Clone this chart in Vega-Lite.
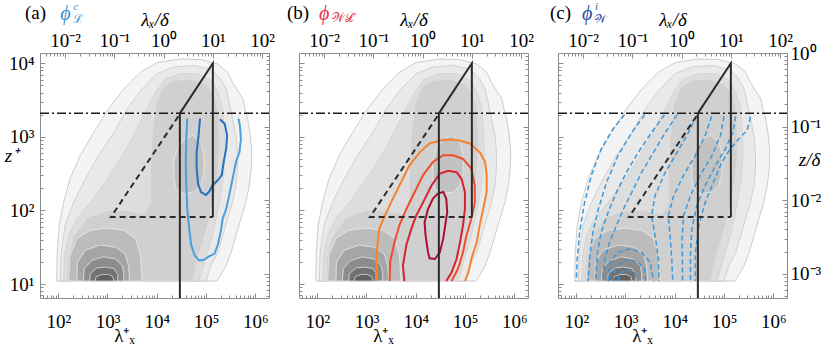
{
"$schema": "https://vega.github.io/schema/vega-lite/v6.json",
"autosize": {"type": "pad"},
"padding": {"left": 4, "top": 0, "right": 0, "bottom": 0},
"background": "white",
"config": {
  "view": {"stroke": null},
  "axis": {"grid": false, "domainColor": "#8c8c8c", "tickColor": "#8c8c8c", "domainWidth": 1, "tickWidth": 1,
    "labelFont": "Liberation Serif", "labelFontSize": 19, "labelColor": "#000",
    "titleFont": "Liberation Serif", "titleFontSize": 19, "titleFontWeight": "normal", "titleColor": "#000",
    "labelFlush": false, "labelOverlap": false, "labelBound": false}
},
"resolve": {"scale": {"color": "independent", "fill": "independent", "stroke": "independent"}},
"datasets": {
  "contours": [
    {"poly":"c01","i":0,"lx":1.97,"lz":1.04},{"poly":"c01","i":1,"lx":1.98,"lz":1.43},{"poly":"c01","i":2,"lx":2.02,"lz":1.80},{"poly":"c01","i":3,"lx":2.11,"lz":2.11},{"poly":"c01","i":4,"lx":2.24,"lz":2.43},{"poly":"c01","i":5,"lx":2.45,"lz":2.75},{"poly":"c01","i":6,"lx":2.72,"lz":3.06},{"poly":"c01","i":7,"lx":3.02,"lz":3.38},{"poly":"c01","i":8,"lx":3.33,"lz":3.65},{"poly":"c01","i":9,"lx":3.67,"lz":3.88},{"poly":"c01","i":10,"lx":4.01,"lz":4.01},{"poly":"c01","i":11,"lx":4.49,"lz":4.06},{"poly":"c01","i":12,"lx":4.90,"lz":4.05},{"poly":"c01","i":13,"lx":5.24,"lz":3.99},{"poly":"c01","i":14,"lx":5.44,"lz":3.88},{"poly":"c01","i":15,"lx":5.54,"lz":3.74},{"poly":"c01","i":16,"lx":5.64,"lz":3.63},{"poly":"c01","i":17,"lx":5.75,"lz":3.52},{"poly":"c01","i":18,"lx":5.79,"lz":3.38},{"poly":"c01","i":19,"lx":5.85,"lz":3.24},{"poly":"c01","i":20,"lx":5.90,"lz":3.02},{"poly":"c01","i":21,"lx":5.93,"lz":2.79},{"poly":"c01","i":22,"lx":5.92,"lz":2.57},{"poly":"c01","i":23,"lx":5.88,"lz":2.34},{"poly":"c01","i":24,"lx":5.81,"lz":2.11},{"poly":"c01","i":25,"lx":5.71,"lz":1.89},{"poly":"c01","i":26,"lx":5.61,"lz":1.66},{"poly":"c01","i":27,"lx":5.51,"lz":1.43},{"poly":"c01","i":28,"lx":5.41,"lz":1.25},{"poly":"c01","i":29,"lx":5.30,"lz":1.12},{"poly":"c01","i":30,"lx":5.22,"lz":1.04},{"poly":"c01","i":31,"lx":1.97,"lz":1.04},
    {"poly":"c02","i":0,"lx":2.04,"lz":1.04},{"poly":"c02","i":1,"lx":2.06,"lz":1.43},{"poly":"c02","i":2,"lx":2.14,"lz":1.80},{"poly":"c02","i":3,"lx":2.31,"lz":2.11},{"poly":"c02","i":4,"lx":2.55,"lz":2.43},{"poly":"c02","i":5,"lx":2.82,"lz":2.75},{"poly":"c02","i":6,"lx":3.13,"lz":3.06},{"poly":"c02","i":7,"lx":3.40,"lz":3.38},{"poly":"c02","i":8,"lx":3.70,"lz":3.65},{"poly":"c02","i":9,"lx":4.01,"lz":3.86},{"poly":"c02","i":10,"lx":4.35,"lz":3.95},{"poly":"c02","i":11,"lx":4.76,"lz":3.97},{"poly":"c02","i":12,"lx":5.10,"lz":3.92},{"poly":"c02","i":13,"lx":5.30,"lz":3.79},{"poly":"c02","i":14,"lx":5.41,"lz":3.65},{"poly":"c02","i":15,"lx":5.47,"lz":3.47},{"poly":"c02","i":16,"lx":5.54,"lz":3.24},{"poly":"c02","i":17,"lx":5.61,"lz":3.02},{"poly":"c02","i":18,"lx":5.64,"lz":2.79},{"poly":"c02","i":19,"lx":5.64,"lz":2.57},{"poly":"c02","i":20,"lx":5.61,"lz":2.34},{"poly":"c02","i":21,"lx":5.54,"lz":2.11},{"poly":"c02","i":22,"lx":5.44,"lz":1.89},{"poly":"c02","i":23,"lx":5.34,"lz":1.66},{"poly":"c02","i":24,"lx":5.24,"lz":1.43},{"poly":"c02","i":25,"lx":5.10,"lz":1.25},{"poly":"c02","i":26,"lx":5.00,"lz":1.04},{"poly":"c02","i":27,"lx":2.04,"lz":1.04},
    {"poly":"c03","i":0,"lx":2.11,"lz":1.04},{"poly":"c03","i":1,"lx":2.13,"lz":1.39},{"poly":"c03","i":2,"lx":2.21,"lz":1.66},{"poly":"c03","i":3,"lx":2.38,"lz":1.89},{"poly":"c03","i":4,"lx":2.65,"lz":2.11},{"poly":"c03","i":5,"lx":2.96,"lz":2.39},{"poly":"c03","i":6,"lx":3.26,"lz":2.70},{"poly":"c03","i":7,"lx":3.53,"lz":3.02},{"poly":"c03","i":8,"lx":3.77,"lz":3.34},{"poly":"c03","i":9,"lx":3.98,"lz":3.61},{"poly":"c03","i":10,"lx":4.18,"lz":3.79},{"poly":"c03","i":11,"lx":4.49,"lz":3.86},{"poly":"c03","i":12,"lx":4.83,"lz":3.86},{"poly":"c03","i":13,"lx":5.10,"lz":3.77},{"poly":"c03","i":14,"lx":5.24,"lz":3.61},{"poly":"c03","i":15,"lx":5.34,"lz":3.38},{"poly":"c03","i":16,"lx":5.37,"lz":3.11},{"poly":"c03","i":17,"lx":5.39,"lz":2.79},{"poly":"c03","i":18,"lx":5.36,"lz":2.48},{"poly":"c03","i":19,"lx":5.30,"lz":2.20},{"poly":"c03","i":20,"lx":5.22,"lz":1.93},{"poly":"c03","i":21,"lx":5.13,"lz":1.66},{"poly":"c03","i":22,"lx":5.03,"lz":1.43},{"poly":"c03","i":23,"lx":4.93,"lz":1.21},{"poly":"c03","i":24,"lx":4.86,"lz":1.04},{"poly":"c03","i":25,"lx":2.11,"lz":1.04},
    {"poly":"c04","i":0,"lx":2.17,"lz":1.04},{"poly":"c04","i":1,"lx":2.19,"lz":1.34},{"poly":"c04","i":2,"lx":2.31,"lz":1.65},{"poly":"c04","i":3,"lx":2.58,"lz":1.90},{"poly":"c04","i":4,"lx":2.99,"lz":2.00},{"poly":"c04","i":5,"lx":3.40,"lz":2.00},{"poly":"c04","i":6,"lx":3.74,"lz":1.95},{"poly":"c04","i":7,"lx":3.87,"lz":2.10},{"poly":"c04","i":8,"lx":3.87,"lz":2.57},{"poly":"c04","i":9,"lx":3.91,"lz":3.02},{"poly":"c04","i":10,"lx":3.98,"lz":3.43},{"poly":"c04","i":11,"lx":4.11,"lz":3.67},{"poly":"c04","i":12,"lx":4.35,"lz":3.77},{"poly":"c04","i":13,"lx":4.69,"lz":3.78},{"poly":"c04","i":14,"lx":5.00,"lz":3.72},{"poly":"c04","i":15,"lx":5.17,"lz":3.58},{"poly":"c04","i":16,"lx":5.24,"lz":3.38},{"poly":"c04","i":17,"lx":5.27,"lz":3.11},{"poly":"c04","i":18,"lx":5.27,"lz":2.79},{"poly":"c04","i":19,"lx":5.24,"lz":2.48},{"poly":"c04","i":20,"lx":5.17,"lz":2.20},{"poly":"c04","i":21,"lx":5.07,"lz":1.89},{"poly":"c04","i":22,"lx":4.96,"lz":1.62},{"poly":"c04","i":23,"lx":4.83,"lz":1.34},{"poly":"c04","i":24,"lx":4.73,"lz":1.04},{"poly":"c04","i":25,"lx":2.17,"lz":1.04},
    {"poly":"c05","i":0,"lx":4.35,"lz":2.43},{"poly":"c05","i":1,"lx":4.34,"lz":2.66},{"poly":"c05","i":2,"lx":4.42,"lz":2.84},{"poly":"c05","i":3,"lx":4.56,"lz":2.97},{"poly":"c05","i":4,"lx":4.73,"lz":3.02},{"poly":"c05","i":5,"lx":4.90,"lz":2.93},{"poly":"c05","i":6,"lx":4.96,"lz":2.75},{"poly":"c05","i":7,"lx":4.96,"lz":2.52},{"poly":"c05","i":8,"lx":4.90,"lz":2.34},{"poly":"c05","i":9,"lx":4.76,"lz":2.25},{"poly":"c05","i":10,"lx":4.56,"lz":2.23},{"poly":"c05","i":11,"lx":4.39,"lz":2.29},{"poly":"c05","i":12,"lx":4.35,"lz":2.43},
    {"poly":"c06","i":0,"lx":2.21,"lz":1.04},{"poly":"c06","i":1,"lx":2.24,"lz":1.39},{"poly":"c06","i":2,"lx":2.38,"lz":1.62},{"poly":"c06","i":3,"lx":2.65,"lz":1.73},{"poly":"c06","i":4,"lx":2.99,"lz":1.76},{"poly":"c06","i":5,"lx":3.33,"lz":1.73},{"poly":"c06","i":6,"lx":3.57,"lz":1.62},{"poly":"c06","i":7,"lx":3.67,"lz":1.39},{"poly":"c06","i":8,"lx":3.70,"lz":1.04},{"poly":"c06","i":9,"lx":2.21,"lz":1.04},
    {"poly":"c07","i":0,"lx":2.38,"lz":1.04},{"poly":"c07","i":1,"lx":2.39,"lz":1.30},{"poly":"c07","i":2,"lx":2.55,"lz":1.46},{"poly":"c07","i":3,"lx":2.85,"lz":1.53},{"poly":"c07","i":4,"lx":3.16,"lz":1.50},{"poly":"c07","i":5,"lx":3.36,"lz":1.41},{"poly":"c07","i":6,"lx":3.43,"lz":1.25},{"poly":"c07","i":7,"lx":3.45,"lz":1.04},{"poly":"c07","i":8,"lx":2.38,"lz":1.04},
    {"poly":"c08","i":0,"lx":2.51,"lz":1.04},{"poly":"c08","i":1,"lx":2.53,"lz":1.21},{"poly":"c08","i":2,"lx":2.68,"lz":1.32},{"poly":"c08","i":3,"lx":2.92,"lz":1.37},{"poly":"c08","i":4,"lx":3.16,"lz":1.34},{"poly":"c08","i":5,"lx":3.30,"lz":1.25},{"poly":"c08","i":6,"lx":3.33,"lz":1.14},{"poly":"c08","i":7,"lx":3.33,"lz":1.04},{"poly":"c08","i":8,"lx":2.51,"lz":1.04},
    {"poly":"c09","i":0,"lx":2.64,"lz":1.04},{"poly":"c09","i":1,"lx":2.65,"lz":1.14},{"poly":"c09","i":2,"lx":2.79,"lz":1.22},{"poly":"c09","i":3,"lx":2.96,"lz":1.23},{"poly":"c09","i":4,"lx":3.13,"lz":1.21},{"poly":"c09","i":5,"lx":3.21,"lz":1.13},{"poly":"c09","i":6,"lx":3.21,"lz":1.04},{"poly":"c09","i":7,"lx":2.64,"lz":1.04},
    {"poly":"c10","i":0,"lx":2.75,"lz":1.04},{"poly":"c10","i":1,"lx":2.77,"lz":1.10},{"poly":"c10","i":2,"lx":2.89,"lz":1.13},{"poly":"c10","i":3,"lx":3.02,"lz":1.13},{"poly":"c10","i":4,"lx":3.11,"lz":1.10},{"poly":"c10","i":5,"lx":3.13,"lz":1.04},{"poly":"c10","i":6,"lx":2.75,"lz":1.04}
  ],
  "solid": [{"i":0,"lx":4.47,"lz":0.81},{"i":1,"lx":4.47,"lz":3.32},{"i":2,"lx":5.14,"lz":4.0},{"i":3,"lx":5.14,"lz":1.91}],
  "dashed": [{"i":0,"lx":4.44,"lz":3.28},{"i":1,"lx":3.07,"lz":1.91},{"i":2,"lx":5.14,"lz":1.91}],
  "dashdot": [{"i":0,"lx":1.63,"lz":3.32},{"i":1,"lx":6.28,"lz":3.32}],
  "lines_a": [
    {"s":"outer","i":0,"lx":4.62,"lz":3.25},{"s":"outer","i":1,"lx":4.60,"lz":2.97},{"s":"outer","i":2,"lx":4.59,"lz":2.66},{"s":"outer","i":3,"lx":4.60,"lz":2.34},{"s":"outer","i":4,"lx":4.62,"lz":2.02},{"s":"outer","i":5,"lx":4.66,"lz":1.75},{"s":"outer","i":6,"lx":4.70,"lz":1.53},{"s":"outer","i":7,"lx":4.77,"lz":1.39},{"s":"outer","i":8,"lx":4.86,"lz":1.32},{"s":"outer","i":9,"lx":4.96,"lz":1.33},{"s":"outer","i":10,"lx":5.07,"lz":1.38},{"s":"outer","i":11,"lx":5.17,"lz":1.41},{"s":"outer","i":12,"lx":5.24,"lz":1.53},{"s":"outer","i":13,"lx":5.30,"lz":1.71},{"s":"outer","i":14,"lx":5.34,"lz":1.89},{"s":"outer","i":15,"lx":5.41,"lz":2.02},{"s":"outer","i":16,"lx":5.47,"lz":2.20},{"s":"outer","i":17,"lx":5.54,"lz":2.43},{"s":"outer","i":18,"lx":5.61,"lz":2.66},{"s":"outer","i":19,"lx":5.68,"lz":2.79},{"s":"outer","i":20,"lx":5.71,"lz":2.97},{"s":"outer","i":21,"lx":5.69,"lz":3.15},{"s":"outer","i":22,"lx":5.66,"lz":3.25},
    {"s":"inner","i":0,"lx":4.88,"lz":3.25},{"s":"inner","i":1,"lx":4.85,"lz":3.02},{"s":"inner","i":2,"lx":4.81,"lz":2.79},{"s":"inner","i":3,"lx":4.81,"lz":2.57},{"s":"inner","i":4,"lx":4.84,"lz":2.36},{"s":"inner","i":5,"lx":4.90,"lz":2.25},{"s":"inner","i":6,"lx":5.00,"lz":2.21},{"s":"inner","i":7,"lx":5.07,"lz":2.26},{"s":"inner","i":8,"lx":5.13,"lz":2.34},{"s":"inner","i":9,"lx":5.24,"lz":2.41},{"s":"inner","i":10,"lx":5.32,"lz":2.48},{"s":"inner","i":11,"lx":5.36,"lz":2.66},{"s":"inner","i":12,"lx":5.41,"lz":2.84},{"s":"inner","i":13,"lx":5.43,"lz":3.02},{"s":"inner","i":14,"lx":5.38,"lz":3.18},{"s":"inner","i":15,"lx":5.28,"lz":3.24}
  ],
  "lines_b": [
    {"s":"o1","i":0,"lx":3.19,"lz":1.04},{"s":"o1","i":1,"lx":3.21,"lz":1.43},{"s":"o1","i":2,"lx":3.26,"lz":1.75},{"s":"o1","i":3,"lx":3.36,"lz":1.91},{"s":"o1","i":4,"lx":3.50,"lz":2.11},{"s":"o1","i":5,"lx":3.67,"lz":2.34},{"s":"o1","i":6,"lx":3.87,"lz":2.61},{"s":"o1","i":7,"lx":4.08,"lz":2.79},{"s":"o1","i":8,"lx":4.28,"lz":2.91},{"s":"o1","i":9,"lx":4.56,"lz":2.96},{"s":"o1","i":10,"lx":4.83,"lz":2.96},{"s":"o1","i":11,"lx":5.10,"lz":2.91},{"s":"o1","i":12,"lx":5.30,"lz":2.79},{"s":"o1","i":13,"lx":5.41,"lz":2.66},{"s":"o1","i":14,"lx":5.44,"lz":2.48},{"s":"o1","i":15,"lx":5.44,"lz":2.25},{"s":"o1","i":16,"lx":5.37,"lz":2.02},{"s":"o1","i":17,"lx":5.30,"lz":1.80},{"s":"o1","i":18,"lx":5.24,"lz":1.57},{"s":"o1","i":19,"lx":5.13,"lz":1.34},{"s":"o1","i":20,"lx":5.07,"lz":1.16},{"s":"o1","i":21,"lx":5.00,"lz":1.04},
    {"s":"o2","i":0,"lx":3.47,"lz":1.04},{"s":"o2","i":1,"lx":3.48,"lz":1.30},{"s":"o2","i":2,"lx":3.57,"lz":1.57},{"s":"o2","i":3,"lx":3.67,"lz":1.80},{"s":"o2","i":4,"lx":3.81,"lz":2.02},{"s":"o2","i":5,"lx":3.98,"lz":2.25},{"s":"o2","i":6,"lx":4.15,"lz":2.48},{"s":"o2","i":7,"lx":4.35,"lz":2.66},{"s":"o2","i":8,"lx":4.56,"lz":2.75},{"s":"o2","i":9,"lx":4.76,"lz":2.75},{"s":"o2","i":10,"lx":4.96,"lz":2.70},{"s":"o2","i":11,"lx":5.13,"lz":2.57},{"s":"o2","i":12,"lx":5.20,"lz":2.34},{"s":"o2","i":13,"lx":5.20,"lz":2.11},{"s":"o2","i":14,"lx":5.13,"lz":1.89},{"s":"o2","i":15,"lx":5.03,"lz":1.66},{"s":"o2","i":16,"lx":4.96,"lz":1.43},{"s":"o2","i":17,"lx":4.86,"lz":1.21},{"s":"o2","i":18,"lx":4.73,"lz":1.04},
    {"s":"o3","i":0,"lx":3.77,"lz":1.04},{"s":"o3","i":1,"lx":3.74,"lz":1.25},{"s":"o3","i":2,"lx":3.81,"lz":1.53},{"s":"o3","i":3,"lx":3.91,"lz":1.75},{"s":"o3","i":4,"lx":4.01,"lz":1.93},{"s":"o3","i":5,"lx":4.15,"lz":2.11},{"s":"o3","i":6,"lx":4.32,"lz":2.34},{"s":"o3","i":7,"lx":4.49,"lz":2.50},{"s":"o3","i":8,"lx":4.66,"lz":2.54},{"s":"o3","i":9,"lx":4.83,"lz":2.52},{"s":"o3","i":10,"lx":4.93,"lz":2.43},{"s":"o3","i":11,"lx":5.00,"lz":2.25},{"s":"o3","i":12,"lx":5.00,"lz":2.02},{"s":"o3","i":13,"lx":4.96,"lz":1.80},{"s":"o3","i":14,"lx":4.90,"lz":1.57},{"s":"o3","i":15,"lx":4.83,"lz":1.34},{"s":"o3","i":16,"lx":4.73,"lz":1.16},{"s":"o3","i":17,"lx":4.62,"lz":1.04},
    {"s":"o4","i":0,"lx":4.25,"lz":1.43},{"s":"o4","i":1,"lx":4.20,"lz":1.66},{"s":"o4","i":2,"lx":4.18,"lz":1.84},{"s":"o4","i":3,"lx":4.25,"lz":2.02},{"s":"o4","i":4,"lx":4.35,"lz":2.16},{"s":"o4","i":5,"lx":4.45,"lz":2.23},{"s":"o4","i":6,"lx":4.56,"lz":2.25},{"s":"o4","i":7,"lx":4.62,"lz":2.16},{"s":"o4","i":8,"lx":4.64,"lz":1.98},{"s":"o4","i":9,"lx":4.60,"lz":1.80},{"s":"o4","i":10,"lx":4.56,"lz":1.62},{"s":"o4","i":11,"lx":4.49,"lz":1.43},{"s":"o4","i":12,"lx":4.39,"lz":1.34},{"s":"o4","i":13,"lx":4.28,"lz":1.35},{"s":"o4","i":14,"lx":4.25,"lz":1.43}
  ],
  "lines_c": [
    {"s":"A1","i":0,"lx":2.98,"lz":3.30},{"s":"A1","i":1,"lx":2.75,"lz":3.11},{"s":"A1","i":2,"lx":2.51,"lz":2.84},{"s":"A1","i":3,"lx":2.31,"lz":2.48},{"s":"A1","i":4,"lx":2.17,"lz":2.11},{"s":"A1","i":5,"lx":2.07,"lz":1.71},{"s":"A1","i":6,"lx":2.02,"lz":1.34},{"s":"A1","i":7,"lx":2.00,"lz":1.04},
    {"s":"A2","i":0,"lx":3.39,"lz":3.30},{"s":"A2","i":1,"lx":3.13,"lz":3.06},{"s":"A2","i":2,"lx":2.85,"lz":2.75},{"s":"A2","i":3,"lx":2.62,"lz":2.39},{"s":"A2","i":4,"lx":2.45,"lz":2.02},{"s":"A2","i":5,"lx":2.34,"lz":1.71},{"s":"A2","i":6,"lx":2.28,"lz":1.39},{"s":"A2","i":7,"lx":2.24,"lz":1.04},
    {"s":"A3","i":0,"lx":3.79,"lz":3.30},{"s":"A3","i":1,"lx":3.53,"lz":3.06},{"s":"A3","i":2,"lx":3.26,"lz":2.79},{"s":"A3","i":3,"lx":3.02,"lz":2.52},{"s":"A3","i":4,"lx":2.82,"lz":2.25},{"s":"A3","i":5,"lx":2.65,"lz":1.98},{"s":"A3","i":6,"lx":2.51,"lz":1.71},{"s":"A3","i":7,"lx":2.43,"lz":1.43},{"s":"A3","i":8,"lx":2.39,"lz":1.04},
    {"s":"A4","i":0,"lx":4.05,"lz":3.30},{"s":"A4","i":1,"lx":3.81,"lz":3.06},{"s":"A4","i":2,"lx":3.57,"lz":2.79},{"s":"A4","i":3,"lx":3.33,"lz":2.52},{"s":"A4","i":4,"lx":3.13,"lz":2.25},{"s":"A4","i":5,"lx":2.96,"lz":2.02},{"s":"A4","i":6,"lx":2.82,"lz":1.80},{"s":"A4","i":7,"lx":2.68,"lz":1.57},{"s":"A4","i":8,"lx":2.58,"lz":1.34},{"s":"A4","i":9,"lx":2.53,"lz":1.04},
    {"s":"B1","i":0,"lx":2.65,"lz":1.04},{"s":"B1","i":1,"lx":2.68,"lz":1.30},{"s":"B1","i":2,"lx":2.85,"lz":1.43},{"s":"B1","i":3,"lx":3.09,"lz":1.48},{"s":"B1","i":4,"lx":3.33,"lz":1.43},{"s":"B1","i":5,"lx":3.50,"lz":1.30},{"s":"B1","i":6,"lx":3.57,"lz":1.04},
    {"s":"B2","i":0,"lx":2.75,"lz":1.04},{"s":"B2","i":1,"lx":2.79,"lz":1.21},{"s":"B2","i":2,"lx":2.92,"lz":1.31},{"s":"B2","i":3,"lx":3.09,"lz":1.33},{"s":"B2","i":4,"lx":3.26,"lz":1.30},{"s":"B2","i":5,"lx":3.39,"lz":1.19},{"s":"B2","i":6,"lx":3.41,"lz":1.04},
    {"s":"B3","i":0,"lx":2.85,"lz":1.04},{"s":"B3","i":1,"lx":2.89,"lz":1.14},{"s":"B3","i":2,"lx":3.02,"lz":1.20},{"s":"B3","i":3,"lx":3.18,"lz":1.16},{"s":"B3","i":4,"lx":3.26,"lz":1.04},
    {"s":"T1","i":0,"lx":4.45,"lz":3.29},{"s":"T1","i":1,"lx":4.28,"lz":3.06},{"s":"T1","i":2,"lx":4.05,"lz":2.79},{"s":"T1","i":3,"lx":3.81,"lz":2.52},{"s":"T1","i":4,"lx":3.60,"lz":2.20},{"s":"T1","i":5,"lx":3.53,"lz":1.93},{"s":"T1","i":6,"lx":3.60,"lz":1.66},{"s":"T1","i":7,"lx":3.67,"lz":1.34},{"s":"T1","i":8,"lx":3.68,"lz":1.04},
    {"s":"T2","i":0,"lx":4.75,"lz":3.28},{"s":"T2","i":1,"lx":4.62,"lz":3.02},{"s":"T2","i":2,"lx":4.42,"lz":2.75},{"s":"T2","i":3,"lx":4.18,"lz":2.48},{"s":"T2","i":4,"lx":3.98,"lz":2.20},{"s":"T2","i":5,"lx":3.87,"lz":1.93},{"s":"T2","i":6,"lx":3.91,"lz":1.62},{"s":"T2","i":7,"lx":3.94,"lz":1.34},{"s":"T2","i":8,"lx":3.96,"lz":1.04},
    {"s":"T3","i":0,"lx":5.00,"lz":3.28},{"s":"T3","i":1,"lx":4.93,"lz":3.02},{"s":"T3","i":2,"lx":4.76,"lz":2.75},{"s":"T3","i":3,"lx":4.52,"lz":2.48},{"s":"T3","i":4,"lx":4.32,"lz":2.20},{"s":"T3","i":5,"lx":4.18,"lz":1.93},{"s":"T3","i":6,"lx":4.15,"lz":1.62},{"s":"T3","i":7,"lx":4.16,"lz":1.04},
    {"s":"T4","i":0,"lx":5.24,"lz":3.28},{"s":"T4","i":1,"lx":5.18,"lz":3.06},{"s":"T4","i":2,"lx":5.03,"lz":2.84},{"s":"T4","i":3,"lx":4.83,"lz":2.61},{"s":"T4","i":4,"lx":4.62,"lz":2.34},{"s":"T4","i":5,"lx":4.45,"lz":2.07},{"s":"T4","i":6,"lx":4.35,"lz":1.75},{"s":"T4","i":7,"lx":4.32,"lz":1.43},{"s":"T4","i":8,"lx":4.32,"lz":1.04},
    {"s":"T5","i":0,"lx":5.54,"lz":3.27},{"s":"T5","i":1,"lx":5.47,"lz":3.09},{"s":"T5","i":2,"lx":5.30,"lz":2.97},{"s":"T5","i":3,"lx":5.13,"lz":2.84},{"s":"T5","i":4,"lx":4.96,"lz":2.66},{"s":"T5","i":5,"lx":4.79,"lz":2.39},{"s":"T5","i":6,"lx":4.62,"lz":2.11},{"s":"T5","i":7,"lx":4.49,"lz":1.80},{"s":"T5","i":8,"lx":4.42,"lz":1.43},{"s":"T5","i":9,"lx":4.42,"lz":1.04}
  ]
},
"spacing": 30,
"bounds": "flush",
"hconcat": [
{
  "width": 229, "height": 245,
  "resolve": {"axis": {"x": "independent", "y": "independent"}},
  "layer": [
    {"data": {"name": "contours"}, "mark": {"type": "line", "strokeWidth": 0.9},
     "encoding": {
       "x": {"field": "lx", "type": "quantitative", "scale": {"domain": [1.63, 6.28], "nice": false, "zero": false},
             "axis": {"orient": "bottom", "values": [2,3,4,5,6], "labelExpr": "'10' + ['⁰','¹','²','³','⁴','⁵','⁶'][round(datum.value)]", "tickSize": -5, "labelPadding": 34, "labelBaseline": "alphabetic", "title": "λ⁺ₓ", "titleX": 84, "titleY": 37, "titleAlign": "center", "titleBaseline": "middle"}},
       "y": {"field": "lz", "type": "quantitative", "scale": {"domain": [0.81, 4.14], "nice": false, "zero": false},
             "axis": {"orient": "left", "values": [1,2,3,4], "labelExpr": "'10' + ['⁰','¹','²','³','⁴'][round(datum.value)]", "tickSize": -5, "labelPadding": 11, "labelBaseline": "middle", "title": "z⁺", "titleAngle": 0, "titleX": -29, "titleY": 108, "titleAlign": "center", "titleBaseline": "alphabetic", "titleFontStyle": "italic"}},
       "detail": {"field": "poly"},
       "order": {"field": "i", "type": "quantitative"},
       "fill": {"field": "poly", "type": "nominal", "legend": null, "scale": {"domain": ["c01","c02","c03","c04","c05","c06","c07","c08","c09","c10"], "range": ["#f4f4f4","#e9e9e9","#dddddd","#d0d0d0","#c2c2c2","#bcbcbc","#a5a5a5","#8c8c8c","#727272","#616161"]}},
       "stroke": {"field": "poly", "type": "nominal", "legend": null, "scale": {"domain": ["c01","c02","c03","c04","c05","c06","c07","c08","c09","c10"], "range": ["#c6c6c6","#cdcdcd","#d2d2d2","#dedede","#e6e6e6","#e6e6e6","#e4e4e4","#dedede","#d6d6d6","#cccccc"]}}
     }},
    {"data": {"name": "lines_a"}, "mark": {"type": "line", "strokeWidth": 2},
     "encoding": {
       "x": {"field": "lx", "type": "quantitative", "axis": null},
       "y": {"field": "lz", "type": "quantitative", "axis": null},
       "detail": {"field": "s"},
       "order": {"field": "i", "type": "quantitative"},
       "color": {"field": "s", "type": "nominal", "legend": null, "scale": {"domain": ["outer","inner"], "range": ["#4aa0dc","#2472c0"]}}
     }},
    {"data": {"name": "dashdot"}, "mark": {"type": "line", "stroke": "#1a1a1a", "strokeWidth": 1.5, "strokeDash": [9,3,2,3]},
     "encoding": {
       "x": {"field": "lx", "type": "quantitative", "axis": {"orient": "top", "values": [1.742,1.839,1.918,1.985,2.043,2.094,2.441,2.617,2.742,2.839,2.918,2.985,3.043,3.094,3.441,3.617,3.742,3.839,3.918,3.985,4.043,4.094,4.441,4.617,4.742,4.839,4.918,4.985,5.043,5.094,5.441,5.617,5.742,5.839,5.918,5.985,6.043,6.094], "labels": false, "tickSize": -3, "domain": false, "title": null}},
       "y": {"field": "lz", "type": "quantitative", "axis": {"orient": "right", "values": [0.839,0.918,0.985,1.043,1.094,1.441,1.617,1.742,1.839,1.918,1.985,2.043,2.094,2.441,2.617,2.742,2.839,2.918,2.985,3.043,3.094,3.441,3.617,3.742,3.839,3.918,3.985,4.043,4.094], "labels": false, "tickSize": -3, "domain": false, "title": null}},
       "order": {"field": "i", "type": "quantitative"}
     }},
    {"data": {"name": "dashed"}, "mark": {"type": "line", "stroke": "#2b2b2b", "strokeWidth": 2, "strokeDash": [6,4]},
     "encoding": {
       "x": {"field": "lx", "type": "quantitative", "axis": {"orient": "top", "values": [2.14,3.14,4.14,5.14,6.14], "labelExpr": "'10' + ['⁻²','⁻¹','⁰','¹','²'][round(datum.value - 2.14)]", "tickSize": -5, "labelPadding": 12, "labelBaseline": "alphabetic", "title": "λₓ/δ", "titleX": 114.5, "titleY": -28, "titleAlign": "center", "titleBaseline": "alphabetic", "titleFontStyle": "italic"}},
       "y": {"field": "lz", "type": "quantitative", "axis": {"orient": "right", "values": [1.14,2.14,3.14,4.14], "labels": false, "tickSize": -5, "title": null}},
       "order": {"field": "i", "type": "quantitative"}
     }},
    {"data": {"name": "solid"}, "mark": {"type": "line", "stroke": "#2b2b2b", "strokeWidth": 2},
     "encoding": {
       "x": {"field": "lx", "type": "quantitative", "axis": {"orient": "bottom", "values": [1.699,1.778,1.845,1.903,1.954,2.301,2.477,2.602,2.699,2.778,2.845,2.903,2.954,3.301,3.477,3.602,3.699,3.778,3.845,3.903,3.954,4.301,4.477,4.602,4.699,4.778,4.845,4.903,4.954,5.301,5.477,5.602,5.699,5.778,5.845,5.903,5.954], "labels": false, "tickSize": -3, "domain": false, "title": null}},
       "y": {"field": "lz", "type": "quantitative", "axis": {"orient": "left", "values": [0.845,0.903,0.954,1.301,1.477,1.602,1.699,1.778,1.845,1.903,1.954,2.301,2.477,2.602,2.699,2.778,2.845,2.903,2.954,3.301,3.477,3.602,3.699,3.778,3.845,3.903,3.954], "labels": false, "tickSize": -3, "domain": false, "title": null}},
       "order": {"field": "i", "type": "quantitative"}
     }},
    {"data": {"values": [{"t": "(a)"}]}, "mark": {"type": "text", "align": "left", "baseline": "alphabetic", "font": "Liberation Serif", "fontSize": 19, "color": "#000"},
     "encoding": {"x": {"datum": 1.325, "type": "quantitative", "axis": null}, "y": {"datum": 4.598, "type": "quantitative", "axis": null}, "text": {"field": "t"}}},
    {"data": {"values": [{"t": "ϕ"}]}, "mark": {"type": "text", "align": "left", "baseline": "alphabetic", "font": "Liberation Serif", "fontSize": 20, "fontStyle": "italic", "color": "#3d8fd1"},
     "encoding": {"x": {"datum": 2.04, "type": "quantitative", "axis": null}, "y": {"datum": 4.584, "type": "quantitative", "axis": null}, "text": {"field": "t"}}},
    {"data": {"values": [{"t": "c"}]}, "mark": {"type": "text", "align": "left", "baseline": "alphabetic", "font": "Liberation Serif", "fontSize": 11, "fontStyle": "italic", "color": "#3d8fd1"},
     "encoding": {"x": {"datum": 2.31, "type": "quantitative", "axis": null}, "y": {"datum": 4.73, "type": "quantitative", "axis": null}, "text": {"field": "t"}}},
    {"data": {"values": [{"t": "ℒ"}]}, "mark": {"type": "text", "align": "left", "baseline": "alphabetic", "font": "Liberation Serif", "fontSize": 12, "color": "#3d8fd1"},
     "encoding": {"x": {"datum": 2.30, "type": "quantitative", "axis": null}, "y": {"datum": 4.55, "type": "quantitative", "axis": null}, "text": {"field": "t"}}}
  ]
},
{
  "width": 229, "height": 245,
  "resolve": {"axis": {"x": "independent", "y": "independent"}},
  "layer": [
    {"data": {"name": "contours"}, "mark": {"type": "line", "strokeWidth": 0.9},
     "encoding": {
       "x": {"field": "lx", "type": "quantitative", "scale": {"domain": [1.63, 6.28], "nice": false, "zero": false},
             "axis": {"orient": "bottom", "values": [2,3,4,5,6], "labelExpr": "'10' + ['⁰','¹','²','³','⁴','⁵','⁶'][round(datum.value)]", "tickSize": -5, "labelPadding": 34, "labelBaseline": "alphabetic", "title": "λ⁺ₓ", "titleX": 84, "titleY": 37, "titleAlign": "center", "titleBaseline": "middle"}},
       "y": {"field": "lz", "type": "quantitative", "scale": {"domain": [0.81, 4.14], "nice": false, "zero": false},
             "axis": {"orient": "left", "values": [1,2,3,4], "labels": false, "tickSize": -5, "title": null}},
       "detail": {"field": "poly"},
       "order": {"field": "i", "type": "quantitative"},
       "fill": {"field": "poly", "type": "nominal", "legend": null, "scale": {"domain": ["c01","c02","c03","c04","c05","c06","c07","c08","c09","c10"], "range": ["#f4f4f4","#e9e9e9","#dddddd","#d0d0d0","#c2c2c2","#bcbcbc","#a5a5a5","#8c8c8c","#727272","#616161"]}},
       "stroke": {"field": "poly", "type": "nominal", "legend": null, "scale": {"domain": ["c01","c02","c03","c04","c05","c06","c07","c08","c09","c10"], "range": ["#c6c6c6","#cdcdcd","#d2d2d2","#dedede","#e6e6e6","#e6e6e6","#e4e4e4","#dedede","#d6d6d6","#cccccc"]}}
     }},
    {"data": {"name": "lines_b"}, "mark": {"type": "line", "strokeWidth": 2},
     "encoding": {
       "x": {"field": "lx", "type": "quantitative", "axis": null},
       "y": {"field": "lz", "type": "quantitative", "axis": null},
       "detail": {"field": "s"},
       "order": {"field": "i", "type": "quantitative"},
       "color": {"field": "s", "type": "nominal", "legend": null, "scale": {"domain": ["o1","o2","o3","o4"], "range": ["#f6832f","#ee4e2c","#d5232f","#a90f2f"]}}
     }},
    {"data": {"name": "dashdot"}, "mark": {"type": "line", "stroke": "#1a1a1a", "strokeWidth": 1.5, "strokeDash": [9,3,2,3]},
     "encoding": {
       "x": {"field": "lx", "type": "quantitative", "axis": {"orient": "top", "values": [1.742,1.839,1.918,1.985,2.043,2.094,2.441,2.617,2.742,2.839,2.918,2.985,3.043,3.094,3.441,3.617,3.742,3.839,3.918,3.985,4.043,4.094,4.441,4.617,4.742,4.839,4.918,4.985,5.043,5.094,5.441,5.617,5.742,5.839,5.918,5.985,6.043,6.094], "labels": false, "tickSize": -3, "domain": false, "title": null}},
       "y": {"field": "lz", "type": "quantitative", "axis": {"orient": "right", "values": [0.839,0.918,0.985,1.043,1.094,1.441,1.617,1.742,1.839,1.918,1.985,2.043,2.094,2.441,2.617,2.742,2.839,2.918,2.985,3.043,3.094,3.441,3.617,3.742,3.839,3.918,3.985,4.043,4.094], "labels": false, "tickSize": -3, "domain": false, "title": null}},
       "order": {"field": "i", "type": "quantitative"}
     }},
    {"data": {"name": "dashed"}, "mark": {"type": "line", "stroke": "#2b2b2b", "strokeWidth": 2, "strokeDash": [6,4]},
     "encoding": {
       "x": {"field": "lx", "type": "quantitative", "axis": {"orient": "top", "values": [2.14,3.14,4.14,5.14,6.14], "labelExpr": "'10' + ['⁻²','⁻¹','⁰','¹','²'][round(datum.value - 2.14)]", "tickSize": -5, "labelPadding": 12, "labelBaseline": "alphabetic", "title": "λₓ/δ", "titleX": 114.5, "titleY": -28, "titleAlign": "center", "titleBaseline": "alphabetic", "titleFontStyle": "italic"}},
       "y": {"field": "lz", "type": "quantitative", "axis": {"orient": "right", "values": [1.14,2.14,3.14,4.14], "labels": false, "tickSize": -5, "title": null}},
       "order": {"field": "i", "type": "quantitative"}
     }},
    {"data": {"name": "solid"}, "mark": {"type": "line", "stroke": "#2b2b2b", "strokeWidth": 2},
     "encoding": {
       "x": {"field": "lx", "type": "quantitative", "axis": {"orient": "bottom", "values": [1.699,1.778,1.845,1.903,1.954,2.301,2.477,2.602,2.699,2.778,2.845,2.903,2.954,3.301,3.477,3.602,3.699,3.778,3.845,3.903,3.954,4.301,4.477,4.602,4.699,4.778,4.845,4.903,4.954,5.301,5.477,5.602,5.699,5.778,5.845,5.903,5.954], "labels": false, "tickSize": -3, "domain": false, "title": null}},
       "y": {"field": "lz", "type": "quantitative", "axis": {"orient": "left", "values": [0.845,0.903,0.954,1.301,1.477,1.602,1.699,1.778,1.845,1.903,1.954,2.301,2.477,2.602,2.699,2.778,2.845,2.903,2.954,3.301,3.477,3.602,3.699,3.778,3.845,3.903,3.954], "labels": false, "tickSize": -3, "domain": false, "title": null}},
       "order": {"field": "i", "type": "quantitative"}
     }},
    {"data": {"values": [{"t": "(b)"}]}, "mark": {"type": "text", "align": "left", "baseline": "alphabetic", "font": "Liberation Serif", "fontSize": 19, "color": "#000"},
     "encoding": {"x": {"datum": 1.386, "type": "quantitative", "axis": null}, "y": {"datum": 4.598, "type": "quantitative", "axis": null}, "text": {"field": "t"}}},
    {"data": {"values": [{"t": "ϕ"}]}, "mark": {"type": "text", "align": "left", "baseline": "alphabetic", "font": "Liberation Serif", "fontSize": 20, "fontStyle": "italic", "color": "#e03550"},
     "encoding": {"x": {"datum": 2.036, "type": "quantitative", "axis": null}, "y": {"datum": 4.584, "type": "quantitative", "axis": null}, "text": {"field": "t"}}},
    {"data": {"values": [{"t": "𝒲ℒ"}]}, "mark": {"type": "text", "align": "left", "baseline": "alphabetic", "font": "Liberation Serif", "fontSize": 13, "color": "#e03550"},
     "encoding": {"x": {"datum": 2.28, "type": "quantitative", "axis": null}, "y": {"datum": 4.557, "type": "quantitative", "axis": null}, "text": {"field": "t"}}}
  ]
},
{
  "width": 229, "height": 245,
  "resolve": {"axis": {"x": "independent", "y": "independent"}},
  "layer": [
    {"data": {"name": "contours"}, "mark": {"type": "line", "strokeWidth": 0.9},
     "encoding": {
       "x": {"field": "lx", "type": "quantitative", "scale": {"domain": [1.63, 6.28], "nice": false, "zero": false},
             "axis": {"orient": "bottom", "values": [2,3,4,5,6], "labelExpr": "'10' + ['⁰','¹','²','³','⁴','⁵','⁶'][round(datum.value)]", "tickSize": -5, "labelPadding": 34, "labelBaseline": "alphabetic", "title": "λ⁺ₓ", "titleX": 84, "titleY": 37, "titleAlign": "center", "titleBaseline": "middle"}},
       "y": {"field": "lz", "type": "quantitative", "scale": {"domain": [0.81, 4.14], "nice": false, "zero": false},
             "axis": {"orient": "left", "values": [1,2,3,4], "labels": false, "tickSize": -5, "title": null}},
       "detail": {"field": "poly"},
       "order": {"field": "i", "type": "quantitative"},
       "fill": {"field": "poly", "type": "nominal", "legend": null, "scale": {"domain": ["c01","c02","c03","c04","c05","c06","c07","c08","c09","c10"], "range": ["#f4f4f4","#e9e9e9","#dddddd","#d0d0d0","#c2c2c2","#bcbcbc","#a5a5a5","#8c8c8c","#727272","#616161"]}},
       "stroke": {"field": "poly", "type": "nominal", "legend": null, "scale": {"domain": ["c01","c02","c03","c04","c05","c06","c07","c08","c09","c10"], "range": ["#c6c6c6","#cdcdcd","#d2d2d2","#dedede","#e6e6e6","#e6e6e6","#e4e4e4","#dedede","#d6d6d6","#cccccc"]}}
     }},
    {"data": {"name": "lines_c"}, "mark": {"type": "line", "strokeWidth": 1.5, "stroke": "#3d99d9", "strokeDash": [5,3]},
     "encoding": {
       "x": {"field": "lx", "type": "quantitative", "axis": null},
       "y": {"field": "lz", "type": "quantitative", "axis": null},
       "detail": {"field": "s"},
       "order": {"field": "i", "type": "quantitative"}
     }},
    {"data": {"name": "dashdot"}, "mark": {"type": "line", "stroke": "#1a1a1a", "strokeWidth": 1.5, "strokeDash": [9,3,2,3]},
     "encoding": {
       "x": {"field": "lx", "type": "quantitative", "axis": {"orient": "top", "values": [1.742,1.839,1.918,1.985,2.043,2.094,2.441,2.617,2.742,2.839,2.918,2.985,3.043,3.094,3.441,3.617,3.742,3.839,3.918,3.985,4.043,4.094,4.441,4.617,4.742,4.839,4.918,4.985,5.043,5.094,5.441,5.617,5.742,5.839,5.918,5.985,6.043,6.094], "labels": false, "tickSize": -3, "domain": false, "title": null}},
       "y": {"field": "lz", "type": "quantitative", "axis": {"orient": "right", "values": [0.839,0.918,0.985,1.043,1.094,1.441,1.617,1.742,1.839,1.918,1.985,2.043,2.094,2.441,2.617,2.742,2.839,2.918,2.985,3.043,3.094,3.441,3.617,3.742,3.839,3.918,3.985,4.043,4.094], "labels": false, "tickSize": -3, "domain": false, "title": null}},
       "order": {"field": "i", "type": "quantitative"}
     }},
    {"data": {"name": "dashed"}, "mark": {"type": "line", "stroke": "#2b2b2b", "strokeWidth": 2, "strokeDash": [6,4]},
     "encoding": {
       "x": {"field": "lx", "type": "quantitative", "axis": {"orient": "top", "values": [2.14,3.14,4.14,5.14,6.14], "labelExpr": "'10' + ['⁻²','⁻¹','⁰','¹','²'][round(datum.value - 2.14)]", "tickSize": -5, "labelPadding": 12, "labelBaseline": "alphabetic", "title": "λₓ/δ", "titleX": 114.5, "titleY": -28, "titleAlign": "center", "titleBaseline": "alphabetic", "titleFontStyle": "italic"}},
       "y": {"field": "lz", "type": "quantitative", "axis": {"orient": "right", "values": [1.14,2.14,3.14,4.14], "labelExpr": "'10' + ['⁻³','⁻²','⁻¹','⁰'][round(datum.value - 1.14)]", "tickSize": -5, "labelPadding": 8, "labelAlign": "left", "labelBaseline": "middle", "title": "z/δ", "titleAngle": 0, "titleX": 22, "titleY": 112, "titleAlign": "center", "titleBaseline": "alphabetic", "titleFontStyle": "italic"}},
       "order": {"field": "i", "type": "quantitative"}
     }},
    {"data": {"name": "solid"}, "mark": {"type": "line", "stroke": "#2b2b2b", "strokeWidth": 2},
     "encoding": {
       "x": {"field": "lx", "type": "quantitative", "axis": {"orient": "bottom", "values": [1.699,1.778,1.845,1.903,1.954,2.301,2.477,2.602,2.699,2.778,2.845,2.903,2.954,3.301,3.477,3.602,3.699,3.778,3.845,3.903,3.954,4.301,4.477,4.602,4.699,4.778,4.845,4.903,4.954,5.301,5.477,5.602,5.699,5.778,5.845,5.903,5.954], "labels": false, "tickSize": -3, "domain": false, "title": null}},
       "y": {"field": "lz", "type": "quantitative", "axis": {"orient": "left", "values": [0.845,0.903,0.954,1.301,1.477,1.602,1.699,1.778,1.845,1.903,1.954,2.301,2.477,2.602,2.699,2.778,2.845,2.903,2.954,3.301,3.477,3.602,3.699,3.778,3.845,3.903,3.954], "labels": false, "tickSize": -3, "domain": false, "title": null}},
       "order": {"field": "i", "type": "quantitative"}
     }},
    {"data": {"values": [{"t": "(c)"}]}, "mark": {"type": "text", "align": "left", "baseline": "alphabetic", "font": "Liberation Serif", "fontSize": 19, "color": "#000"},
     "encoding": {"x": {"datum": 1.467, "type": "quantitative", "axis": null}, "y": {"datum": 4.598, "type": "quantitative", "axis": null}, "text": {"field": "t"}}},
    {"data": {"values": [{"t": "ϕ"}]}, "mark": {"type": "text", "align": "left", "baseline": "alphabetic", "font": "Liberation Serif", "fontSize": 20, "fontStyle": "italic", "color": "#2c4d9c"},
     "encoding": {"x": {"datum": 2.118, "type": "quantitative", "axis": null}, "y": {"datum": 4.584, "type": "quantitative", "axis": null}, "text": {"field": "t"}}},
    {"data": {"values": [{"t": "i"}]}, "mark": {"type": "text", "align": "left", "baseline": "alphabetic", "font": "Liberation Serif", "fontSize": 11, "fontStyle": "italic", "color": "#2c4d9c"},
     "encoding": {"x": {"datum": 2.38, "type": "quantitative", "axis": null}, "y": {"datum": 4.73, "type": "quantitative", "axis": null}, "text": {"field": "t"}}},
    {"data": {"values": [{"t": "𝒲"}]}, "mark": {"type": "text", "align": "left", "baseline": "alphabetic", "font": "Liberation Serif", "fontSize": 12, "color": "#2c4d9c"},
     "encoding": {"x": {"datum": 2.37, "type": "quantitative", "axis": null}, "y": {"datum": 4.55, "type": "quantitative", "axis": null}, "text": {"field": "t"}}}
  ]
}
]
}
